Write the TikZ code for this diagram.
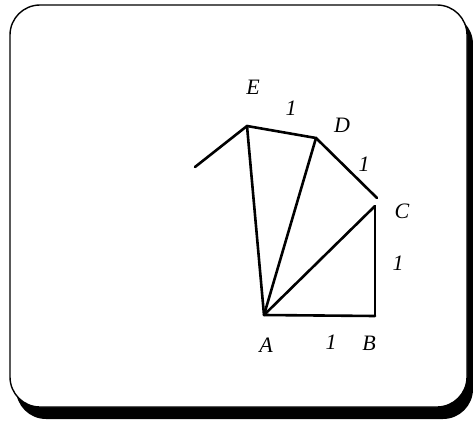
\documentclass[tikz,border=0pt]{standalone}
\usepackage{fontspec}
\setmainfont{Liberation Serif}
\begin{document}
\begin{tikzpicture}[x=1pt,y=-1pt,
  seg/.style={line width=2.6pt,line cap=round,line join=round},
  thinseg/.style={line width=1.5pt},
  lbl/.style={font=\fontsize{22}{22}\selectfont\itshape,inner sep=0pt},
  frame/.style={line width=1.4pt,rounded corners=30pt}]
\useasboundingbox (0,0) rectangle (473,420);
% frame with shadow
\fill[black,rounded corners=30pt] (16,14) rectangle (473,419);
\filldraw[frame,fill=white] (10,5) rectangle (467,407);
% points
\coordinate (A) at (264,315);
\coordinate (B) at (375,316);
\coordinate (C) at (375,206);
\coordinate (Ct) at (377,198);
\coordinate (D) at (316,138);
\coordinate (E) at (247,126);
\coordinate (F) at (195,167);
% segments
\draw[seg] (F) -- (E) -- (D) -- (Ct);
\draw[seg] (A) -- (E);
\draw[seg] (A) -- (D);
\draw[seg] (A) -- (C);
\draw[seg] (A) -- (B);
\draw[thinseg] (B) -- (C);
% labels
\node[lbl] (lE) at (253,87) {E};
\node[lbl] (lD) at (342,125) {D};
\node[lbl] (lC) at (402,211) {C};
\node[lbl] (lA) at (266,345) {A};
\node[lbl] (lB) at (369,343) {B};
\node[lbl] (l1) at (291,108) {1};
\node[lbl] (l2) at (364,164) {1};
\node[lbl] (l3) at (398,263) {1};
\node[lbl] (l4) at (331,342) {1};
\end{tikzpicture}
\end{document}
